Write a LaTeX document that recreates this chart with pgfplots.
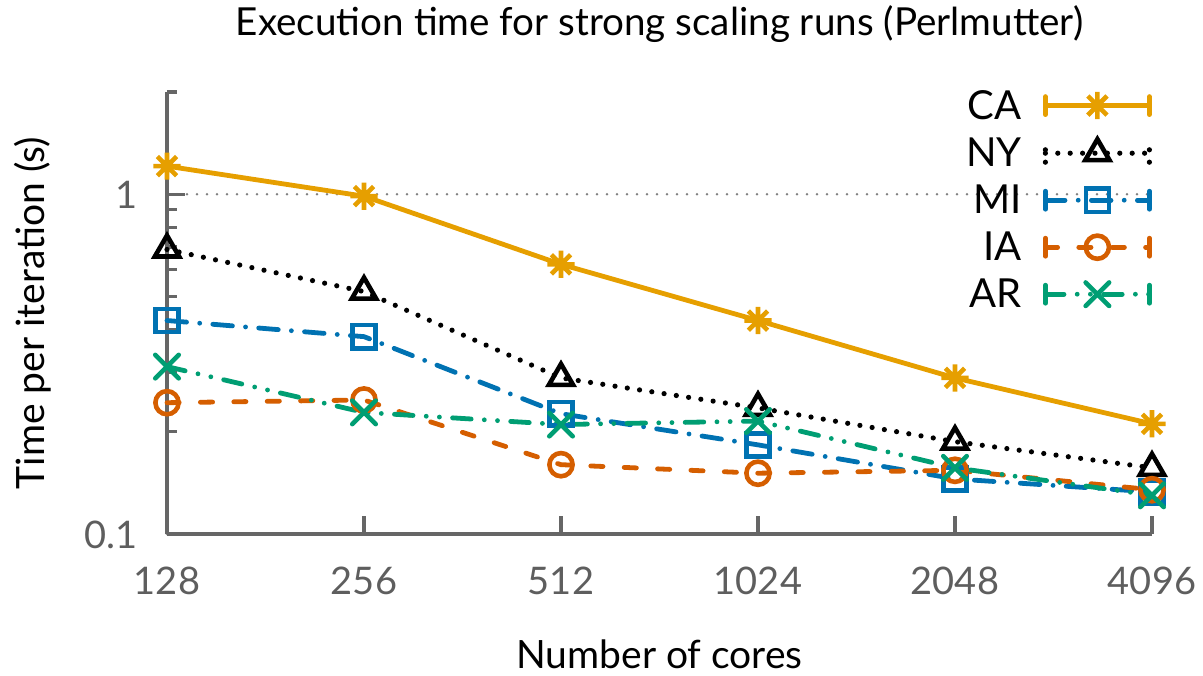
\documentclass[border=0pt]{standalone}
\usepackage{fontspec}
\setmainfont{Lato}
\usepackage{pgfplots}
\pgfplotsset{compat=1.18}
\definecolor{cCA}{HTML}{E69F00}
\definecolor{cMI}{HTML}{0072B2}
\definecolor{cIA}{HTML}{D55E00}
\definecolor{cAR}{HTML}{009E73}
\definecolor{axgray}{HTML}{666666}
\definecolor{tickgray}{HTML}{5E5E5E}
\pgfdeclareplotmark{star8}{%
  \pgfpathmoveto{\pgfqpoint{0pt}{\pgfplotmarksize}}\pgfpathlineto{\pgfqpoint{0pt}{-\pgfplotmarksize}}%
  \pgfpathmoveto{\pgfqpoint{\pgfplotmarksize}{0pt}}\pgfpathlineto{\pgfqpoint{-\pgfplotmarksize}{0pt}}%
  \pgfpathmoveto{\pgfqpoint{0.7071\pgfplotmarksize}{0.7071\pgfplotmarksize}}\pgfpathlineto{\pgfqpoint{-0.7071\pgfplotmarksize}{-0.7071\pgfplotmarksize}}%
  \pgfpathmoveto{\pgfqpoint{0.7071\pgfplotmarksize}{-0.7071\pgfplotmarksize}}\pgfpathlineto{\pgfqpoint{-0.7071\pgfplotmarksize}{0.7071\pgfplotmarksize}}%
  \pgfusepathqstroke}
\pgfplotsset{
  capimg/.style={legend image code/.code={%
    \draw[mark repeat=2,mark phase=2,##1] plot coordinates {(0pt,0pt) (26pt,0pt) (52pt,0pt)};
    \draw[##1,solid,line cap=round] (0pt,-4.5pt)--(0pt,4.5pt) (52pt,-4.5pt)--(52pt,4.5pt);}},
  dotimg/.style={legend image code/.code={%
    \draw[mark repeat=2,mark phase=2,##1] plot coordinates {(0pt,0pt) (26pt,0pt) (52pt,0pt)};
    \draw[##1] (0pt,-4.5pt)--(0pt,4.5pt) (52pt,-4.5pt)--(52pt,4.5pt);}},
}
\pgfplotstableread{
x CA NY MI IA AR
0 1.21 0.688 0.425 0.2435 0.311
1 0.987 0.517 0.381 0.248 0.228
2 0.622 0.288 0.226 0.160 0.210
3 0.425 0.235 0.183 0.151 0.215
4 0.288 0.187 0.1453 0.154 0.1566
5 0.211 0.1566 0.133 0.135 0.130
}\datatable
\begin{document}
\begin{tikzpicture}
\useasboundingbox (-83.5pt,-70.5pt) rectangle (518pt,267pt);
\begin{axis}[
  scale only axis, width=492.5pt, height=221pt,
  ymode=log, ymin=0.1, ymax=2, xmin=0, xmax=5,
  clip=false,
  axis x line*=bottom, axis y line*=left,
  axis line style={draw=axgray, line width=1.6pt, -},
  xtick={0,1,2,3,4,5}, xticklabels={128,256,512,1024,2048,4096},
  ytick={0.1,1}, yticklabels={0.1,1},
  minor ytick={0.2,0.3,0.4,0.5,0.6,0.7,0.8,0.9,2},
  tick align=inside, major tick length=9pt, minor tick length=5pt,
  every tick/.style={draw=axgray, line width=1.6pt},
  ymajorgrids,
  grid style={draw=gray, line width=1.4pt, line cap=round, dash pattern=on 0pt off 5pt},
  /pgf/number format/assume math mode=true,
  tick label style={font=\fontsize{19}{22}\selectfont, text=tickgray},
  xticklabel style={anchor=base, inner sep=0pt, yshift=-30pt},
  yticklabel style={anchor=base east, inner sep=0pt, xshift=-14.5pt, yshift=-7pt},
  title={Execution time for strong scaling runs (Perlmutter)},
  title style={font=\fontsize{19.3}{22}\selectfont, at={(axis description cs:0.5,1)}, anchor=base, yshift=22pt, inner sep=0pt},
  xlabel={Number of cores},
  xlabel style={font=\fontsize{19.5}{22}\selectfont, at={(axis description cs:0.5,0)}, anchor=base, yshift=-67pt, inner sep=0pt},
  ylabel={Time per iteration (s)},
  ylabel style={font=\fontsize{19.5}{22}\selectfont, at={(axis description cs:-0.136,0.5)}, anchor=center, inner sep=0pt},
  legend plot pos=right,
  legend cell align=right,
  legend style={at={(axis description cs:1,1)}, anchor=north east, draw=none, fill=none,
    inner sep=0pt, outer sep=0pt, row sep=10pt, column sep=10.5pt,
    font=\fontsize{20}{22}\selectfont,
    nodes={inner sep=0pt, text height=13.5pt, text depth=0pt}},
  capimg,
]
\addplot[cCA, line width=2.4pt, mark=star8, mark size=6.8pt, mark options={solid, line width=2.3pt}] table[x=x,y=CA] {\datatable};
\addlegendentry{CA}
\addplot[black, line width=2.6pt, line cap=round, dash pattern=on 0pt off 6.2pt, mark=triangle, mark size=7pt, mark options={solid, fill=white, line width=2.3pt}, dotimg] table[x=x,y=NY] {\datatable};
\addlegendentry{NY}
\addplot[cMI, line width=2.4pt, line cap=round, dash pattern=on 9.8pt off 6.6pt on 0pt off 6.6pt, mark=square, mark size=5.8pt, mark options={solid, fill=white, line width=2.3pt}] table[x=x,y=MI] {\datatable};
\addlegendentry{MI}
\addplot[cIA, line width=2.4pt, line cap=round, dash pattern=on 6.1pt off 10.6pt, mark=o, mark size=5.8pt, mark options={solid, fill=white, line width=2.3pt}] table[x=x,y=IA] {\datatable};
\addlegendentry{IA}
\addplot[cAR, line width=2.4pt, line cap=round, dash pattern=on 9.3pt off 6.6pt on 0pt off 6.6pt on 0pt off 6.6pt, mark=x, mark size=8.3pt, mark options={solid, line width=2.3pt}] table[x=x,y=AR] {\datatable};
\addlegendentry{AR}
\end{axis}
\end{tikzpicture}
\end{document}
